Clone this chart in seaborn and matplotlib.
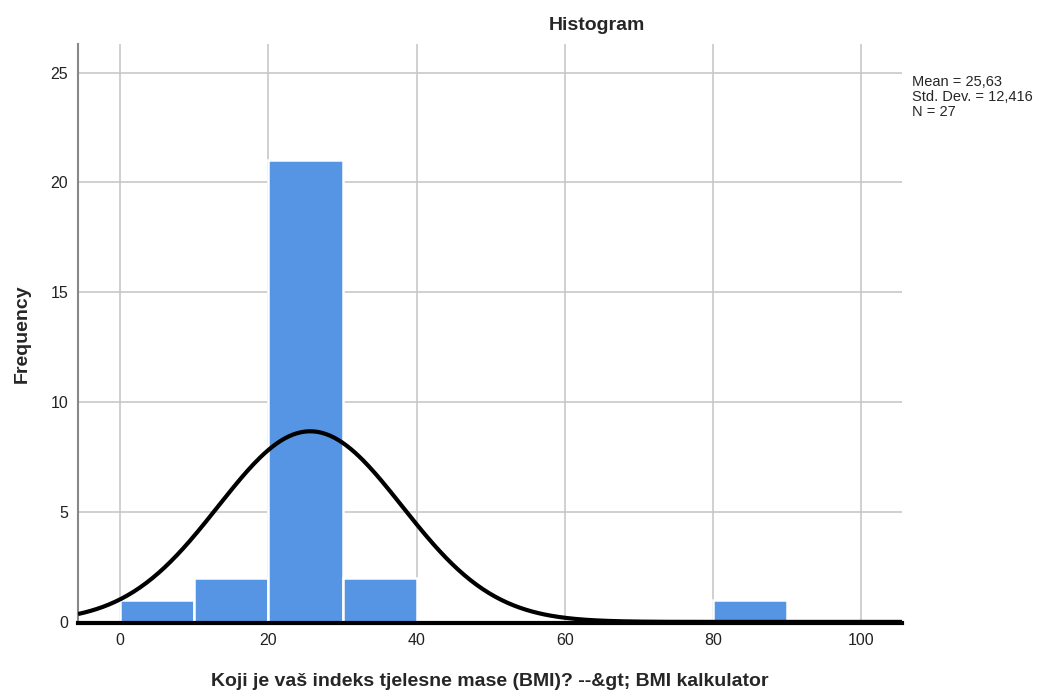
import numpy as np
import pandas as pd
import matplotlib
matplotlib.use("Agg")
import matplotlib.pyplot as plt
import seaborn as sns

# histogram bins (BMI) and frequencies
bin_edges = [0, 10, 20, 30, 40, 50, 60, 70, 80, 90]
counts = [1, 2, 21, 2, 0, 0, 0, 0, 1]
mean_bmi = 25.63
std_bmi = 12.416
n_obs = 27

centers = [(a + b) / 2 for a, b in zip(bin_edges[:-1], bin_edges[1:])]
df = pd.DataFrame({"bmi": centers, "freq": counts})

sns.set_style("white")
plt.rcParams['font.family'] = ['Liberation Sans', 'DejaVu Sans']

fig = plt.figure(figsize=(10.42, 6.93), dpi=100)
ax = fig.add_axes([0.0749, 0.1010, 0.7907, 0.8355])

sns.histplot(data=df, x="bmi", weights="freq", bins=bin_edges, ax=ax,
             color="#5595e4", alpha=1, edgecolor="white", linewidth=1.8, zorder=2)

# normal curve scaled to counts
xs = np.linspace(-5.7, 105.5, 400)
ys = n_obs * 10 / (std_bmi * np.sqrt(2 * np.pi)) * np.exp(-0.5 * ((xs - mean_bmi) / std_bmi) ** 2)
ax.plot(xs, ys, color="black", linewidth=3, zorder=3, solid_capstyle="butt")

ax.set_xlim(-5.7, 105.5)
ax.set_ylim(-0.05, 26.3)
ax.set_xticks([0, 20, 40, 60, 80, 100])
ax.set_yticks([0, 5, 10, 15, 20, 25])
ax.grid(True, color="#c8c8c8", linewidth=1.2, zorder=0)
ax.set_axisbelow(True)
ax.tick_params(axis="both", length=0, labelsize=11.5, colors="#222222", pad=7)

for s in ["top", "right"]:
    ax.spines[s].set_visible(False)
ax.spines["left"].set_color("#888888")
ax.spines["left"].set_linewidth(1.5)
ax.spines["bottom"].set_color("black")
ax.spines["bottom"].set_linewidth(3)
ax.spines["bottom"].set_zorder(4)

ax.set_xlabel("Koji je vaš indeks tjelesne mase (BMI)? --&gt; BMI kalkulator",
              fontsize=14, fontweight="bold", labelpad=18)
ax.set_ylabel("Frequency", fontsize=14, fontweight="bold", labelpad=14)

fig.text(597 / 1042, 1 - 25 / 693, "Histogram", ha="center", va="center",
         fontsize=14, fontweight="bold")
fig.text(912 / 1042, 1 - 97 / 693, "Mean = 25,63\nStd. Dev. = 12,416\nN = 27",
         ha="left", va="center", fontsize=10.5, linespacing=1.05)

fig.savefig("out.png", dpi=100)
